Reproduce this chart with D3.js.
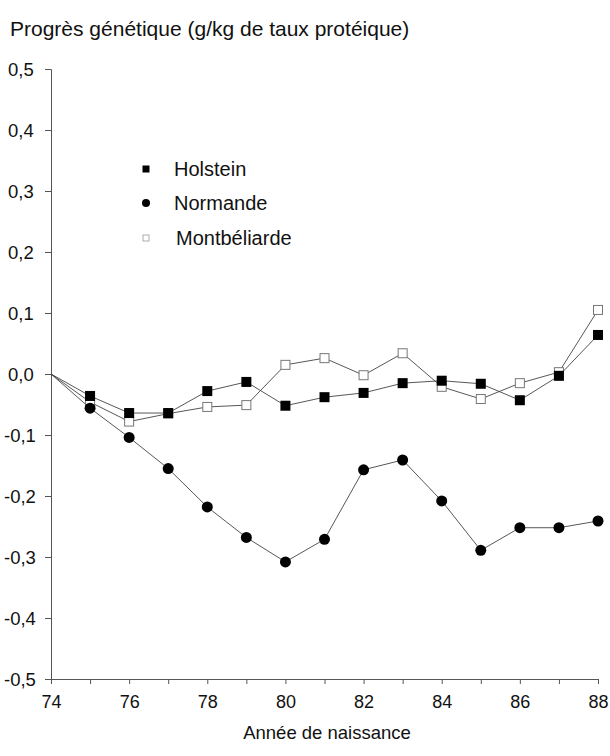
<!DOCTYPE html>
<html>
<head>
<meta charset="utf-8">
<script src="https://cdn.jsdelivr.net/npm/d3@7"></script>
<style>
  body { margin: 0; background: #fff; }
  text { font-family: "Liberation Sans", Arial, sans-serif; fill: #111; }
</style>
</head>
<body>
<div id="chart"></div>
<script>
var years = [74, 75, 76, 77, 78, 79, 80, 81, 82, 83, 84, 85, 86, 87, 88];
var holstein = [0, -0.036, -0.064, -0.064, -0.028, -0.013, -0.052, -0.038, -0.031, -0.015, -0.011, -0.016, -0.043, -0.003, 0.064];
var normande = [0, -0.056, -0.104, -0.155, -0.218, -0.268, -0.308, -0.271, -0.157, -0.141, -0.208, -0.289, -0.252, -0.252, -0.241];
var montbeliarde = [0, -0.046, -0.078, -0.065, -0.054, -0.051, 0.015, 0.026, -0.002, 0.034, -0.021, -0.041, -0.015, 0.003, 0.105];
var yTicks = [-0.5, -0.4, -0.3, -0.2, -0.1, 0, 0.1, 0.2, 0.3, 0.4, 0.5];
var xLabelYears = [74, 76, 78, 80, 82, 84, 86, 88];
var legendNames = ["Holstein", "Normande", "Montbéliarde"];

function drawChart(targetID) {
  var width = 610, height = 756;

  var x = d3.scaleLinear().domain([74, 88]).range([51, 598]);
  var y = d3.scaleLinear().domain([-0.5, 0.5]).range([679, 69]);

  var fmt = function(d) { return d.toFixed(1).replace(".", ","); };

  d3.select(targetID).selectAll("svg").remove();
  var svg = d3.select(targetID).append("svg")
      .attr("width", width)
      .attr("height", height);

  svg.append("text")
      .attr("x", 10)
      .attr("y", 36)
      .style("font-size", "21px")
      .text("Progrès génétique (g/kg de taux protéique)");

  // y axis
  var yAxis = d3.axisLeft(y).tickValues(yTicks).tickSize(6).tickFormat(fmt);
  var gy = svg.append("g")
      .attr("transform", "translate(" + x(74) + ",0)")
      .call(yAxis);
  gy.select(".domain").attr("stroke", "#555").attr("stroke-width", 1);
  gy.selectAll(".tick line").attr("stroke", "#555");
  gy.selectAll(".tick text")
      .attr("text-anchor", "start")
      .attr("x", function(d) { return d < 0 ? -47 : -43; })
      .attr("dy", "0.36em")
      .style("font-size", "18.5px")
      .style("font-family", "'Liberation Sans', Arial, sans-serif")
      .attr("fill", "#111");

  // x axis
  var xAxis = d3.axisBottom(x).tickValues(years).tickSize(5)
      .tickFormat(function(d) { return xLabelYears.indexOf(d) >= 0 ? d : ""; });
  var gx = svg.append("g")
      .attr("transform", "translate(0," + y(-0.5) + ")")
      .call(xAxis);
  gx.select(".domain").attr("stroke", "#555").attr("stroke-width", 1);
  gx.selectAll(".tick line").attr("stroke", "#555");
  gx.selectAll(".tick text")
      .attr("y", 16)
      .style("font-size", "18px")
      .style("font-family", "'Liberation Sans', Arial, sans-serif")
      .attr("fill", "#111");

  svg.append("text")
      .attr("x", 327)
      .attr("y", 739)
      .attr("text-anchor", "middle")
      .style("font-size", "18.5px")
      .text("Année de naissance");

  var line = d3.line()
      .x(function(d, i) { return x(years[i]); })
      .y(function(d) { return y(d); });

  function drawLine(vals) {
    svg.append("path")
        .datum(vals)
        .attr("fill", "none")
        .attr("stroke", "#444")
        .attr("stroke-width", 0.9)
        .attr("d", line);
  }

  // Montbeliarde (open squares)
  drawLine(montbeliarde);
  svg.append("g").selectAll("rect")
      .data(montbeliarde.slice(1))
      .enter().append("rect")
      .attr("x", function(d, i) { return x(years[i + 1]) - 4.5; })
      .attr("y", function(d) { return y(d) - 4.5; })
      .attr("width", 9).attr("height", 9)
      .attr("fill", "#fff")
      .attr("stroke", "#777")
      .attr("stroke-width", 1);

  // Holstein (filled squares)
  drawLine(holstein);
  svg.append("g").selectAll("rect")
      .data(holstein.slice(1))
      .enter().append("rect")
      .attr("x", function(d, i) { return x(years[i + 1]) - 5; })
      .attr("y", function(d) { return y(d) - 5; })
      .attr("width", 10).attr("height", 10)
      .attr("fill", "#000");

  // Normande (circles)
  drawLine(normande);
  svg.append("g").selectAll("circle")
      .data(normande.slice(1))
      .enter().append("circle")
      .attr("cx", function(d, i) { return x(years[i + 1]); })
      .attr("cy", function(d) { return y(d); })
      .attr("r", 5.5)
      .attr("fill", "#000");

  // legend
  var lg = svg.append("g").attr("transform", "translate(146,0)");
  lg.append("rect").attr("x", -3.5).attr("y", 169 - 3.5).attr("width", 7).attr("height", 7).attr("fill", "#000");
  lg.append("circle").attr("cx", 0).attr("cy", 203).attr("r", 4).attr("fill", "#000");
  lg.append("rect").attr("x", -3).attr("y", 238 - 3).attr("width", 6).attr("height", 6)
      .attr("fill", "#fff").attr("stroke", "#999").attr("stroke-width", 0.8);
  lg.selectAll("text")
      .data(legendNames)
      .enter().append("text")
      .attr("x", function(d, i) { return i === 2 ? 30 : 28; })
      .attr("y", function(d, i) { return [169, 203, 238][i]; })
      .attr("dy", "0.36em")
      .style("font-size", "20px")
      .text(function(d) { return d; });
}

drawChart("#chart");
</script>
</body>
</html>
